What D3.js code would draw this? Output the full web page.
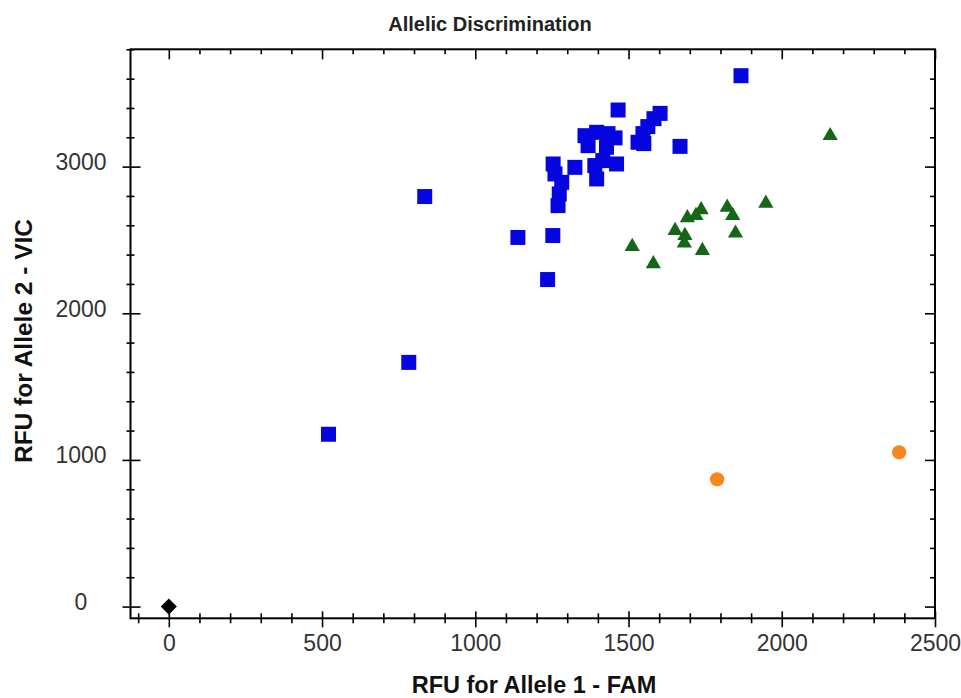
<!DOCTYPE html>
<html><head><meta charset="utf-8">
<script src="https://cdn.jsdelivr.net/npm/d3@7/dist/d3.min.js"></script>
<style>body{margin:0;background:#fff} svg{display:block}</style>
</head><body><svg id="c" width="961" height="698"></svg>
<script>
const chartTitle = "Allelic Discrimination";
const xLabel = "RFU for Allele 1 - FAM";
const yLabel = "RFU for Allele 2 - VIC";
const xTickLabels = [0, 500, 1000, 1500, 2000, 2500];
const yTickLabels = [0, 1000, 2000, 3000];

// Allele 2 (blue squares)
const allele2X = [1867, 835, 1139, 1253, 1236, 783, 521, 1668,
  1466, 1603, 1583, 1563, 1547, 1531, 1550,
  1358, 1396, 1433, 1456, 1368, 1428, 1390, 1396, 1461, 1416,
  1254, 1325, 1260, 1282, 1274, 1270];
const allele2Y = [3620, 2796, 2517, 2530, 2230, 1665, 1175, 3138,
  3386, 3363, 3327, 3273, 3225, 3166, 3157,
  3211, 3234, 3225, 3196, 3143, 3132, 3007, 2916, 3018, 3041,
  3018, 2995, 2950, 2893, 2814, 2734];
// Heterozygote (green triangles)
const heteroX = [2158, 1948, 1822, 1840, 1737, 1720, 1692, 1652, 1684, 1682, 1849, 1741, 1512, 1581];
const heteroY = [3211, 2750, 2723, 2666, 2705, 2666, 2651, 2564, 2530, 2478, 2546, 2428, 2455, 2337];
// Allele 1 (orange circles)
const allele1X = [1789, 2383];
const allele1Y = [868, 1052];
// NTC (black diamond)
const ntcX = [0];
const ntcY = [0];

const svg = d3.select("#c");
const L = 130.5, R = 935, T = 49.3, B = 618.3;
const x = d3.scaleLinear().domain([-125, 2500]).range([L, R]);
const y = d3.scaleLinear().domain([-80, 3800]).range([B, T]);

const font = "'Liberation Sans', Arial, sans-serif";

// title
svg.append("text").attr("x", 490).attr("y", 31).attr("text-anchor", "middle")
  .attr("font-family", font).attr("font-weight", "bold").attr("font-size", 20)
  .attr("fill", "#222").text(chartTitle);

// frame
svg.append("rect").attr("x", L).attr("y", T).attr("width", R - L).attr("height", B - T)
  .attr("fill", "none").attr("stroke", "#000").attr("stroke-width", 2);

const xMinor = d3.range(-100, 2501, 100);
const yMinor = d3.range(0, 3801, 200);
const isXMajor = v => v % 500 === 0;
const isYMajor = v => v % 1000 === 0;

// bottom axis
const gB = svg.append("g").attr("transform", `translate(0,${B})`)
  .call(d3.axisBottom(x).tickValues(xMinor).tickSize(0)
    .tickFormat(v => xTickLabels.includes(v) ? d3.format("d")(v) : ""));
gB.select(".domain").remove();
gB.selectAll(".tick line").attr("stroke", "#000").attr("stroke-width", 1.6)
  .attr("y1", d => isXMajor(d) ? -7 : -5).attr("y2", d => isXMajor(d) ? 9 : 5);
gB.selectAll(".tick text").attr("y", 16).attr("dy", "0.71em")
  .attr("font-family", font).attr("font-size", 23).attr("fill", "#333");

// left axis
const gL = svg.append("g").attr("transform", `translate(${L},0)`)
  .call(d3.axisLeft(y).tickValues(yMinor).tickSize(0)
    .tickFormat(v => yTickLabels.includes(v) ? d3.format("d")(v) : ""));
gL.select(".domain").remove();
gL.selectAll(".tick line").attr("stroke", "#000").attr("stroke-width", 1.6)
  .attr("x1", d => isYMajor(d) ? 10 : 4).attr("x2", d => isYMajor(d) ? -8 : -4);
gL.selectAll(".tick text").attr("x", 81 - L).attr("dy", "0.12em").attr("text-anchor", "middle")
  .attr("font-family", font).attr("font-size", 23).attr("fill", "#333");

// top axis (inward ticks)
const gT = svg.append("g").attr("transform", `translate(0,${T})`)
  .call(d3.axisTop(x).tickValues(xMinor.filter(v => v > -100)).tickSize(0).tickFormat(""));
gT.select(".domain").remove();
gT.selectAll(".tick line").attr("stroke", "#000").attr("stroke-width", 1.6)
  .attr("y1", 0).attr("y2", d => isXMajor(d) ? 10 : 5);

// right axis (inward ticks)
const gR = svg.append("g").attr("transform", `translate(${R},0)`)
  .call(d3.axisRight(y).tickValues(yMinor.filter(v => v < 3800)).tickSize(0).tickFormat(""));
gR.select(".domain").remove();
gR.selectAll(".tick line").attr("stroke", "#000").attr("stroke-width", 1.6)
  .attr("x1", 0).attr("x2", d => isYMajor(d) ? -10 : -5);

// axis labels
svg.append("text").attr("x", 534).attr("y", 693).attr("text-anchor", "middle")
  .attr("font-family", font).attr("font-weight", "bold").attr("font-size", 23.5)
  .attr("fill", "#111").text(xLabel);
svg.append("text").attr("transform", "translate(32,341) rotate(-90)").attr("text-anchor", "middle")
  .attr("font-family", font).attr("font-weight", "bold").attr("font-size", 24.5)
  .attr("fill", "#111").text(yLabel);

// points
const plot = svg.append("g");
function drawSeries(xs, ys, symbolType, size, color, rotate) {
  const pts = xs.map((v, i) => [v, ys[i]]);
  plot.append("g").selectAll("path").data(pts).join("path")
    .attr("d", d3.symbol().type(symbolType).size(size))
    .attr("transform", d => `translate(${x(d[0])},${y(d[1])})` + (rotate ? ` rotate(${rotate})` : ""))
    .attr("fill", color);
}
drawSeries(allele2X, allele2Y, d3.symbolSquare, 225, "#0505e0");
drawSeries(heteroX, heteroY, d3.symbolTriangle, 100, "#16661a");
drawSeries(allele1X, allele1Y, d3.symbolCircle, 160, "#f7861e");
drawSeries(ntcX, ntcY, d3.symbolSquare, 130, "#000", 45);
</script></body></html>
